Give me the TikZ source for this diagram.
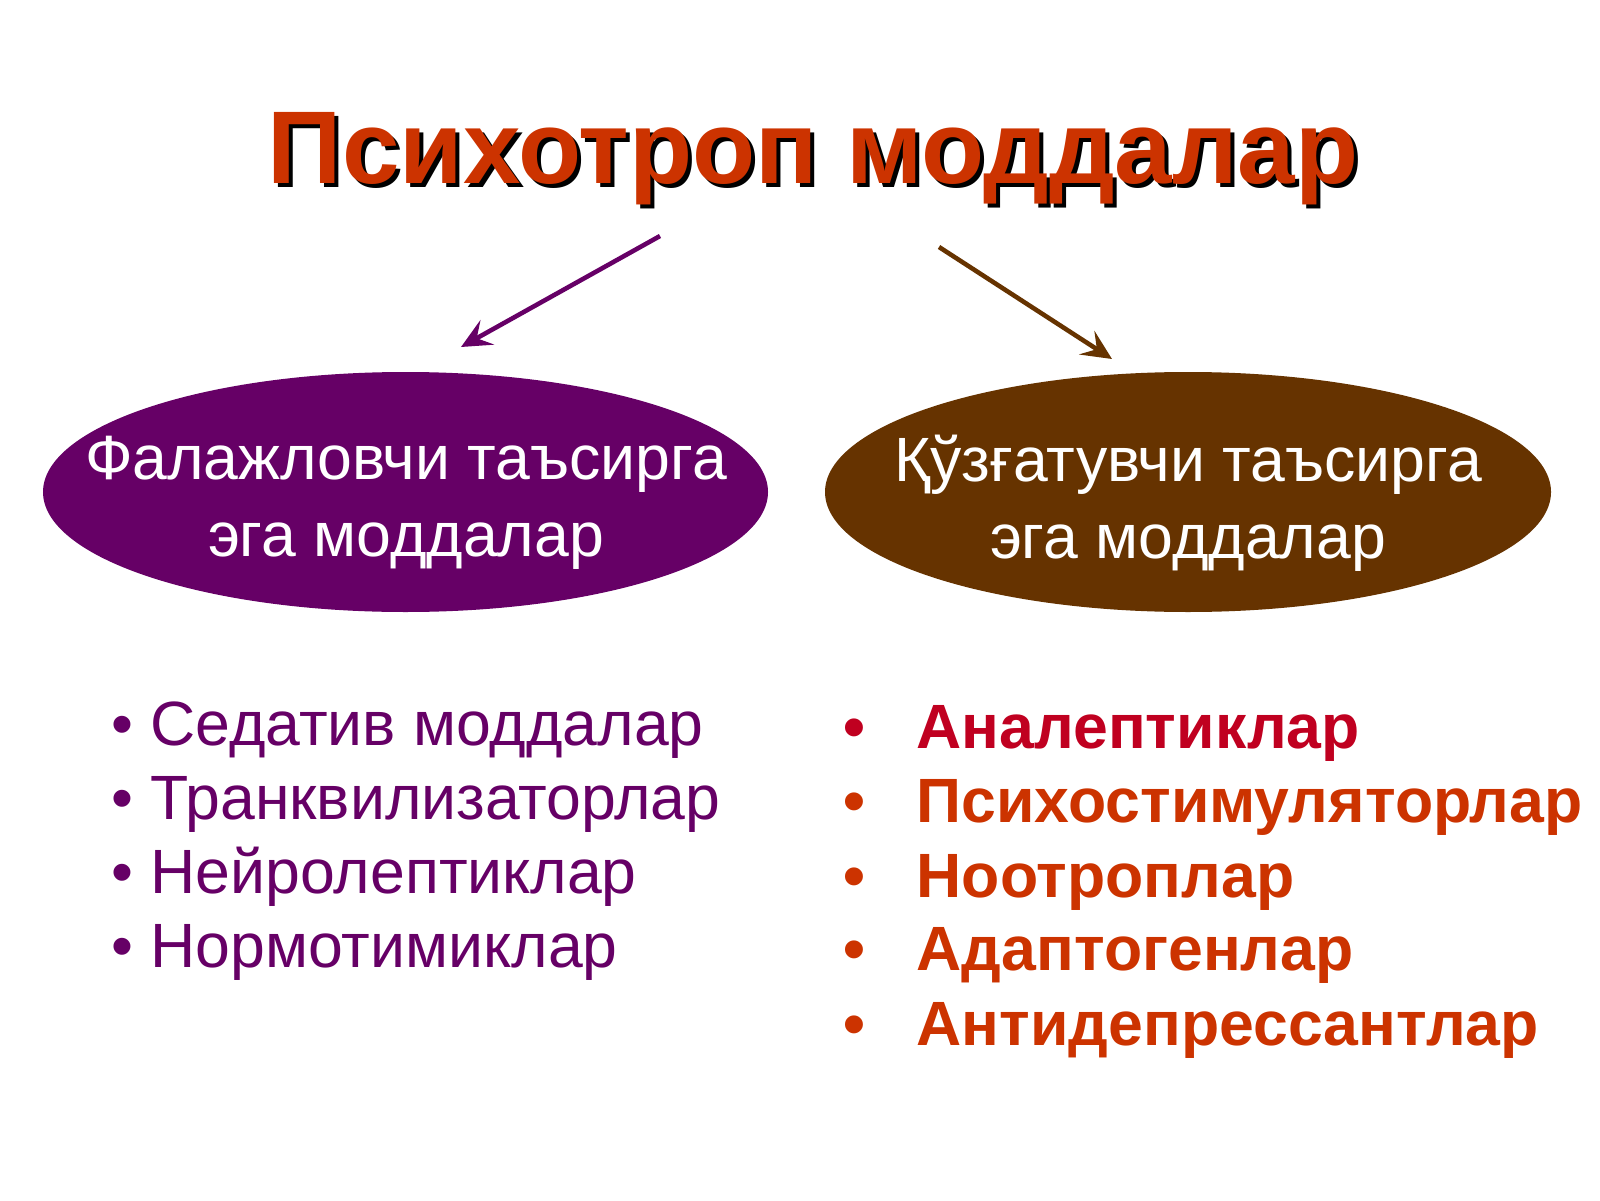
\documentclass[tikz,border=0pt]{standalone}
\usepackage{fontspec}
\setmainfont{Liberation Sans}
\usepackage{tikz}
\definecolor{plum}{RGB}{102,0,102}
\definecolor{brown}{RGB}{102,51,0}
\definecolor{titlered}{RGB}{204,51,0}
\definecolor{crimson}{RGB}{192,0,32}
\usetikzlibrary{positioning,arrows.meta}
\tikzset{%
  title/.style={font=\fontsize{29.4}{36}\selectfont\bfseries, anchor=base},% big heading
  group/.style={text=white, align=center, font=\fontsize{17.8}{21.8}\selectfont},% ellipse text
  item/.style={anchor=base west, inner sep=0pt, font=\fontsize{17.8}{20}\selectfont},% list line
  bolditem/.style={item, font=\fontsize{17.8}{20}\selectfont\bfseries},% right list line
  link/.style={line width=1.3pt, -{Stealth[length=3mm, width=2.8mm, inset=1.2mm]}}% arrow
}
\newcommand*{\itm}[2]{\makebox[#1][l]{\textbullet}#2}

\begin{document}
\begin{tikzpicture}
\useasboundingbox (0,0) rectangle (16,12);
\node[title, black] (ts) at (8.17,10.12) {Психотроп моддалар};
\node[title, titlered] (t) at (8.13,10.16) {Психотроп моддалар};

\fill[plum] (4.055,7.08) ellipse (3.625cm and 1.20cm);
\fill[brown] (11.88,7.08) ellipse (3.63cm and 1.20cm);
\node[group] (l) at (4.06,6.97) {Фалажловчи таъсирга\\эга моддалар};
\node[group] (r) at (11.88,6.97) {Қўзғатувчи таъсирга\\эга моддалар};

%%%%
\coordinate (la) at (6.60,9.64);
\coordinate (lb) at (4.61,8.53);
\coordinate (ra) at (9.39,9.53);
\coordinate (rb) at (11.12,8.41);
\draw[link, plum] (la) -- (lb);
\draw[link, brown] (ra) -- (rb);

\node[item, plum] (l1) at (1.11,4.55) {\itm{0.39cm}{Седатив моддалар}};
\node[item, plum] (l2) at (1.11,3.81) {\itm{0.39cm}{Транквилизаторлар}};
\node[item, plum] (l3) at (1.11,3.07) {\itm{0.39cm}{Нейролептиклар}};
\node[item, plum] (l4) at (1.11,2.33) {\itm{0.39cm}{Нормотимиклар}};

\node[bolditem, crimson] (r1) at (8.43,4.52) {\itm{0.73cm}{Аналептиклар}};
\node[bolditem, titlered] (r2) at (8.43,3.775) {\itm{0.73cm}{Психостимуляторлар}};
\node[bolditem, titlered] (r3) at (8.43,3.03) {\itm{0.73cm}{Ноотроплар}};
\node[bolditem, titlered] (r4) at (8.43,2.30) {\itm{0.73cm}{Адаптогенлар}};
\node[bolditem, titlered] (r5) at (8.43,1.55) {\itm{0.73cm}{Антидепрессантлар}};
\end{tikzpicture}
\end{document}
